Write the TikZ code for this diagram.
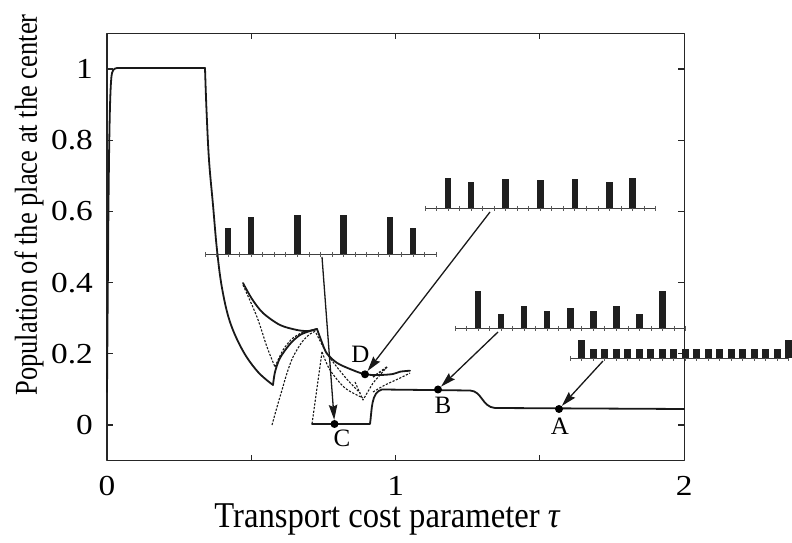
\documentclass[tikz,border=0pt]{standalone}
\usepackage{fontspec}
\setmainfont{Liberation Serif}
\usetikzlibrary{arrows.meta}
\newcommand\barinset[6]{% x0, y, spacing, n intervals, bar width, idx/height list
  \draw[insetaxis] (#1,#2) -- ({#1+#4*#3},#2);
  \foreach \k in {0,...,#4} \draw[insettick] ({#1+\k*#3},{#2-2.5}) -- ++(0,5);
  \foreach \k/\h in {#6} \fill[barfill] ({#1+\k*#3-#5/2},#2) rectangle ++(#5,-\h);
}
\newcommand\wide[1]{\scalebox{1.15}[1]{#1}}
\begin{document}
\begin{tikzpicture}[
  line join=round,
  pxs/.style={x=1pt,y=-1pt,shift={(0pt,543pt)}},
  datas/.style={shift={(107pt,118pt)},x=288.6pt,y=356pt},
  framestyle/.style={line width=1.1pt,black!85},
  curve/.style={line width=1.8pt,black!90,line cap=round},
  dcurve/.style={line width=1.1pt,black!90,dash pattern=on 2.2pt off 1.5pt},
  insetaxis/.style={line width=1pt,black!75},
  insettick/.style={line width=0.8pt,black!65},
  barfill/.style={fill=black!88},
  arr/.style={line width=1.3pt,black!90,-{Stealth[length=15pt,width=8.5pt,inset=2pt]}},
  dot/.style={circle,fill=black,inner sep=0pt,minimum size=8pt},
  ticklab/.style={font=\fontsize{29}{29}\selectfont,inner sep=0pt},
  ptlab/.style={font=\fontsize{25}{25}\selectfont,inner sep=0pt},
]
\useasboundingbox (0,0) rectangle (792pt,543pt);
% ---------- frame and ticks ----------
\begin{scope}[datas]
  \draw[framestyle] (0,-0.1) rectangle (2,1.1);
  \foreach \v in {0,0.2,0.4,0.6,0.8,1} {
    \draw[framestyle] (0,\v) -- ++(6pt,0);
    \draw[framestyle] (2,\v) -- ++(-6pt,0);
  }
  \foreach \t in {0.5,1,1.5} {
    \draw[framestyle] (\t,-0.1) -- ++(0,6pt);
    \draw[framestyle] (\t,1.1) -- ++(0,-6pt);
  }
  \foreach \v/\s [count=\i] in {0/0,0.2/0.2,0.4/0.4,0.6/0.6,0.8/0.8,1/1}
    \node[ticklab,anchor=east] (yl\i) at ([xshift=-14pt]0,\v) {\wide{\s}};
  \foreach \t [count=\i] in {0,1,2}
    \node[ticklab] (xl\i) at ([yshift=-25pt]\t,-0.1) {\wide{\t}};
\end{scope}
\node[font=\fontsize{33}{33}\selectfont,inner sep=0pt,anchor=base] (xlabel) at (387pt,15pt) {\scalebox{0.99}[1.1]{Transport cost parameter {\itshape τ}}};
\node[font=\fontsize{26.5}{26.5}\selectfont,inner sep=0pt,rotate=90] (ylabel) at (29pt,338pt) {\scalebox{1}[1.2]{Population of the place at the center}};
% ---------- curves (pixel coordinates) ----------
\begin{scope}[pxs]
  % solid branches
  \draw[curve] (107,392) .. controls (108.5,200) and (109,85) .. (112,73)
     .. controls (113.5,68.5) and (115,68) .. (119,68) -- (205,68);
  \draw[curve] plot[smooth,tension=0.6] coordinates {(205,68) (206.5,110) (209,160) (213,205) (217,250) (222,288) (230,322) (243,351) (258,372) (273,385)};
  \draw[curve] plot[smooth] coordinates {(273,385) (275,372) (280,358) (290,344) (300,335) (310,331) (317,329)};
  \draw[curve] plot[smooth] coordinates {(317,329) (321.7,341.7) (326.7,353.3) (336.7,362.7) (350,369) (365,374.3) (380,375) (393,374) (400,371.7) (410,370.7)};
  \draw[curve] plot[smooth] coordinates {(243,283) (252,299) (263,313) (280,325) (297,330) (308,331) (317,329)};
  \draw[curve] (312,424) -- (370,424) .. controls (372,410) and (371,392) .. (382,389.5)
     -- (470,390.5) .. controls (482,391) and (482,407) .. (495,408) -- (684,409);
  % dashed (unstable) branches
  \draw[dcurve] plot[smooth] coordinates {(272,425) (277,407) (282,390) (287,373) (293,357) (302,342) (310,334) (316,331)};
  \draw[dcurve] plot[smooth] coordinates {(243,285) (257,317) (267,347) (275,367)};
  \draw[dcurve] plot[smooth] coordinates {(275,367) (283,350) (293,338) (305,331)};
  \draw[dcurve] (322,352) -- (312,424);
  \draw[dcurve] plot[smooth] coordinates {(322,352) (330,370) (345,388) (363,398)};
  \draw[dcurve] plot[smooth] coordinates {(316,333) (328,355) (345,377) (360,393)};
  \draw[dcurve] (355,382) -- (363,400) -- (373,383) -- (387,367);
  \draw[dcurve] plot[smooth] coordinates {(373,392) (385,385) (398,379) (410,373)};
  \draw[dcurve,line width=1.6pt] (373,377) -- (387,367);
  % bar insets
  \barinset{205}{254.3}{11.55}{20}{6.5}{2/26,4/37.7,8/39,12/39,16/37.7,18/26}
  \barinset{425}{208.3}{11.53}{20}{6.5}{2/30.7,4/26.3,7/29.3,10/28.3,13/29.3,16/26.3,18/30.7}
  \barinset{455}{328.3}{11.53}{20}{6.5}{2/37.7,4/14,6/22.3,8/17.7,10/20.7,12/17.7,14/22.3,16/14,18/37.7}
  \barinset{570}{358.3}{11.5}{19}{7}{1/18,2/9,3/9,4/9,5/9,6/9,7/9,8/9,9/9,10/9,11/9,12/9,13/9,14/9,15/9,16/9,17/9,18/9,19/18}
  % points
  \node[dot] (A) at (559,409) {};
  \node[dot] (B) at (438,389.5) {};
  \node[dot] (C) at (334.5,424) {};
  \node[dot] (D) at (365,374.3) {};
  \node[ptlab] (Alab) at (560,426) {A};
  \node[ptlab] (Blab) at (443,405) {B};
  \node[ptlab] (Clab) at (342,438) {C};
  \node[ptlab] (Dlab) at (360.5,354) {D};
  % arrows from insets
  \coordinate (iC) at (322,257);
  \coordinate (iD) at (490,212);
  \coordinate (iB) at (498,332);
  \coordinate (iA) at (603,361);
  \draw[arr] (iC) -- (C);
  \draw[arr] (iD) -- (D);
  \draw[arr] (iB) -- (B);
  \draw[arr] (iA) -- (A);
\end{scope}
\end{tikzpicture}
\end{document}
